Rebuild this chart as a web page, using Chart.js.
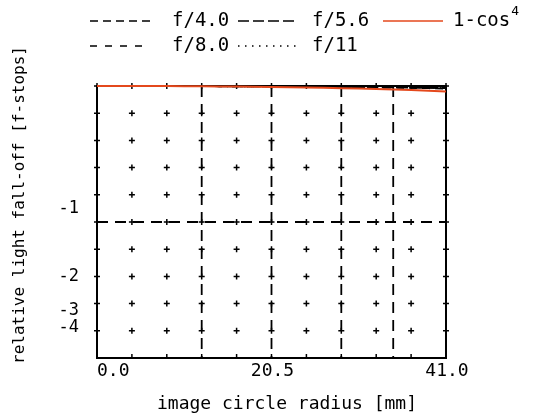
<!DOCTYPE html>
<html>
<head>
<meta charset="utf-8">
<script src="https://cdn.jsdelivr.net/npm/chart.js@4.4.1/dist/chart.umd.min.js"></script>
<style>
html, body { margin: 0; padding: 0; background: #fff; }
</style>
</head>
<body>
<canvas id="falloffChart" width="539" height="418"></canvas>
<script>
// ================================
// DATA
// ================================

// image circle radius (mm)
const radius = [0.0, 4.1, 8.2, 12.3, 16.4, 20.5, 24.6, 28.7, 32.8, 36.9, 41.0];

// light fall-off in f-stops
const f40 = [0, 0, 0, -0.0005, -0.001, -0.002, -0.003, -0.005, -0.007, -0.0095, -0.013];
const f56 = [0, 0, 0, -0.0004, -0.001, -0.0018, -0.0027, -0.0045, -0.006, -0.008, -0.011];
const f80 = [0, 0, 0, -0.0003, -0.0008, -0.0015, -0.0022, -0.0035, -0.005, -0.0068, -0.009];
const f11 = [0, 0, 0, -0.0003, -0.0007, -0.0013, -0.002, -0.003, -0.0045, -0.006, -0.008];
const cos4 = [0, 0, -0.0005, -0.0016, -0.0032, -0.0053, -0.008, -0.0117, -0.016, -0.022, -0.029];

const xTickLabels = [0.0, 20.5, 41.0];
const yTickStops = [-1, -2, -3, -4];
const gridRatios = [0, 0.1, 0.2, 0.3, 0.4, 0.5, 0.6, 0.7, 0.8, 0.9, 1.0];
const markRadii = [12.3, 20.5, 28.7, 34.8];

const FONT = "'DejaVu Sans Mono', monospace";
const ORANGE = "#e4481c";

// stops -> relative light (linear axis)
const toRatio = arr => arr.map((s, i) => ({ x: radius[i], y: Math.pow(2, s) }));

// ================================
// FRAME, GRID AND TEXT
// ================================

const framePlugin = {
    id: "frame",

    beforeDatasetsDraw(chart) {
        const ctx = chart.ctx;
        const xs = chart.scales.x;
        const ys = chart.scales.y;
        const a = chart.chartArea;

        ctx.save();
        ctx.strokeStyle = "#000";

        // dashed reference lines
        ctx.lineWidth = 1.8;
        ctx.setLineDash([11, 7]);
        markRadii.forEach(r => {
            const px = xs.getPixelForValue(r);
            ctx.beginPath();
            ctx.moveTo(px, a.top);
            ctx.lineTo(px, a.bottom);
            ctx.stroke();
        });
        const hy = ys.getPixelForValue(Math.pow(2, -1));
        ctx.beginPath();
        ctx.moveTo(a.left, hy);
        ctx.lineTo(a.right, hy);
        ctx.stroke();
        ctx.setLineDash([]);

        // plus marks
        ctx.lineWidth = 1.5;
        radius.forEach(r => {
            const px = xs.getPixelForValue(r);
            gridRatios.forEach(g => {
                const py = ys.getPixelForValue(g);
                ctx.beginPath();
                if (g === 0) {
                    ctx.moveTo(px, py);
                    ctx.lineTo(px, py - 4);
                } else {
                    ctx.moveTo(px - 3, py);
                    ctx.lineTo(px + 3, py);
                    ctx.moveTo(px, py - 3);
                    ctx.lineTo(px, py + 3);
                }
                ctx.stroke();
            });
        });

        // box
        ctx.lineWidth = 2;
        ctx.strokeRect(a.left, a.top, a.right - a.left, a.bottom - a.top);
        ctx.restore();
    },

    afterDraw(chart) {
        const ctx = chart.ctx;
        const xs = chart.scales.x;
        const ys = chart.scales.y;
        const a = chart.chartArea;

        ctx.save();
        ctx.fillStyle = "#000";
        ctx.textBaseline = "middle";

        // x tick labels
        ctx.font = "18px " + FONT;
        xTickLabels.forEach((v, i) => {
            const px = xs.getPixelForValue(v);
            ctx.textAlign = i === 0 ? "left" : "center";
            ctx.fillText(v.toFixed(1), i === 0 ? px : px + 1, a.bottom + 13);
        });

        // y tick labels
        ctx.font = "17px " + FONT;
        ctx.textAlign = "right";
        yTickStops.forEach(s => {
            const py = ys.getPixelForValue(Math.pow(2, s));
            ctx.fillText(String(s), 79, py - 13);
        });

        // axis titles
        ctx.font = "18px " + FONT;
        ctx.textAlign = "center";
        ctx.fillText("image circle radius [mm]", 287, 404);

        ctx.save();
        ctx.translate(20, 205);
        ctx.rotate(-Math.PI / 2);
        ctx.font = "16px " + FONT;
        ctx.fillText("relative light fall-off [f-stops]", 0, 0);
        ctx.restore();

        // legend
        const cols = [{ s: 90, t: 172 }, { s: 238, t: 312 }, { s: 383, t: 453 }];
        const rows = [21, 46];
        ctx.font = "19px " + FONT;
        ctx.textAlign = "left";
        chart.data.datasets.forEach((ds, i) => {
            const c = cols[i % 3];
            const y = rows[Math.floor(i / 3)];
            ctx.strokeStyle = ds.borderColor;
            ctx.lineWidth = 1.6;
            ctx.setLineDash(ds.borderDash || []);
            ctx.beginPath();
            ctx.moveTo(c.s, y);
            ctx.lineTo(c.s + 60, y);
            ctx.stroke();
            ctx.setLineDash([]);
            if (ds.label === "1-cos4") {
                ctx.fillText("1-cos", c.t, y);
                const w = ctx.measureText("1-cos").width;
                ctx.font = "13px " + FONT;
                ctx.fillText("4", c.t + w + 1, y - 9);
                ctx.font = "19px " + FONT;
            } else {
                ctx.fillText(ds.label, c.t, y);
            }
        });

        ctx.restore();
    }
};

// ================================
// CHART
// ================================

const ctx = document.getElementById("falloffChart");

new Chart(ctx, {
    type: "line",

    data: {
        datasets: [
            { label: "f/4.0", data: toRatio(f40), borderColor: "#000", borderDash: [8, 5], order: 1 },
            { label: "f/5.6", data: toRatio(f56), borderColor: "#000", borderDash: [11, 4], order: 1 },
            { label: "1-cos4", data: toRatio(cos4), borderColor: ORANGE, borderDash: [], order: 0 },
            { label: "f/8.0", data: toRatio(f80), borderColor: "#000", borderDash: [7, 8], order: 1 },
            { label: "f/11", data: toRatio(f11), borderColor: "#000", borderDash: [1.5, 5.5], order: 1 }
        ].map(d => Object.assign(d, {
            borderWidth: 2,
            pointRadius: 0,
            tension: 0.3,
            clip: false,
            fill: false
        }))
    },

    options: {
        responsive: false,
        animation: false,
        devicePixelRatio: 1,
        layout: {
            padding: { left: 97, right: 93, top: 86, bottom: 60 }
        },
        plugins: {
            legend: { display: false },
            tooltip: { enabled: false }
        },
        scales: {
            x: { type: "linear", min: 0, max: 41, display: false },
            y: { type: "linear", min: 0, max: 1, display: false }
        }
    },

    plugins: [framePlugin]
});
</script>
</body>
</html>
